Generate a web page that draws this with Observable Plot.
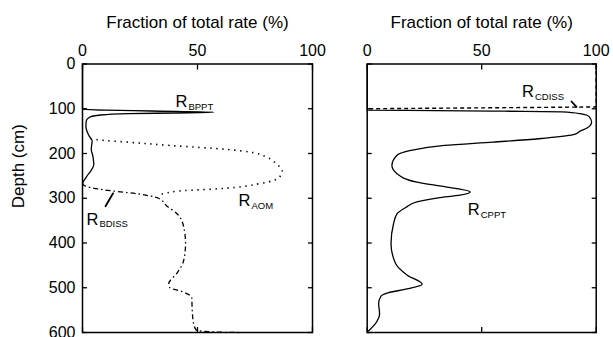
<!DOCTYPE html>
<html>
<head>
<meta charset="utf-8">
<script src="https://cdn.jsdelivr.net/npm/d3@7"></script>
<script src="https://cdn.jsdelivr.net/npm/@observablehq/plot@0.6"></script>
<style>
  html, body { margin: 0; padding: 0; background: #fff; }
  #wrap { position: relative; width: 613px; height: 337px; overflow: hidden; }
  #wrap svg { position: absolute; top: 0; overflow: visible; }
</style>
</head>
<body>
<div id="wrap"></div>
<script>
// ---- tick values ----
const xTicks = [0, 50, 100];
const depthTicks = [0, 100, 200, 300, 400, 500, 600];
const xTitle = "Fraction of total rate (%)";
const yTitle = "Depth (cm)";

// ---- Panel 1 series (fraction %, depth cm) ----
const bpptFrac  = [0, 0, 10, 30, 57, 40, 20, 8, 3, 1.6, 1.5, 2.8, 4.2, 3.8, 4.6, 4.9, 3.5, 2, 0];
const bpptDepth = [0, 101, 103, 105, 108, 109.5, 111, 114, 119, 128, 140, 160, 172, 190, 208, 225, 240, 250, 266];

const aomFrac  = [3.5, 10, 18, 38, 63, 73, 80, 84.3, 86.8, 85.4, 77.4, 58.6, 44, 36, 33];
const aomDepth = [167, 171, 174, 182, 191, 197, 208, 223, 239, 254, 267, 279, 283, 289, 293];

const bdissFrac  = [0, 0.6, 9, 23.8, 33, 36.8, 41, 44, 44.8, 44, 41, 37.5, 38, 43, 47.5, 47.7, 48.3, 49.5, 58, 68];
const bdissDepth = [266, 271, 281, 290, 300, 318, 334, 364, 401, 439, 468, 491, 500, 508, 522, 550, 580, 595, 599, 600];

// ---- Panel 2 series ----
const cpptFrac  = [0, 0, 30, 60, 85, 93, 97, 98, 96, 93, 90, 75, 55, 33.7, 19, 13, 10.8, 13, 21.7, 34.8, 45, 40.6, 31, 21.7, 17, 13, 11.5, 10.4, 12.4, 17.5, 24, 18, 9.3, 6, 5, 5.4, 3.6, 0];
const cpptDepth = [0, 103, 104, 105.5, 107, 111, 118, 130, 143, 150, 158, 167, 174.5, 182, 193, 204, 227, 245, 264, 275, 286, 293, 299, 308, 320, 335, 357, 401, 446, 472, 492, 502, 511, 519, 535, 558, 580, 599];

const cdissFrac  = [100, 100, 50, 0];
const cdissDepth = [0, 96, 98, 100];

// ---- curve labels (R + subscript), anchored at R's baseline-left ----
const p1LabelSub   = ["BPPT", "AOM", "BDISS"];
const p1LabelFrac  = [40.4, 67.8, 1.7];
const p1LabelDepth = [97.2, 318.4, 358.7];
const p2LabelSub   = ["CPPT", "CDISS"];
const p2LabelFrac  = [43.9, 67.6];
const p2LabelDepth = [337, 74];

// leader lines
const p1LeaderFrac  = [10, 13.3];
const p1LeaderDepth = [318, 289];
const p2LeaderFrac  = [89.2, 91.4];
const p2LeaderDepth = [83.8, 96];

const rows = (xs, ds) => xs.map((x, i) => ({x, d: ds[i]}));
const labelRows = (subs, xs, ds) => subs.map((s, i) => ({sub: s, x: xs[i], d: ds[i]}));

const FONT = "Arial, 'Liberation Sans', Helvetica, sans-serif";

function panel({width, marginLeft, marginRight, showYLabels, series, labels, leader}) {
  const marks = [
    Plot.axisX(xTicks, {anchor: "top", tickSize: -5, tickPadding: 13, label: null, fontSize: 16, strokeWidth: 1.3}),
    Plot.axisX(xTicks, {anchor: "bottom", tickSize: -5, tickFormat: () => "", label: null, strokeWidth: 1.3}),
    Plot.axisY(depthTicks, {anchor: "left", tickSize: -5, tickPadding: 12, label: null, fontSize: 16, strokeWidth: 1.3,
      tickFormat: showYLabels ? (d => String(d)) : (() => "")}),
    Plot.axisY(depthTicks, {anchor: "right", tickSize: -5, tickFormat: () => "", label: null, strokeWidth: 1.3}),
    Plot.text([xTitle], {frameAnchor: "top", dy: -41, lineAnchor: "middle", fontSize: 17}),
  ];
  if (showYLabels) {
    marks.push(Plot.text([yTitle], {frameAnchor: "left", rotate: -90, dx: -64, dy: 10, lineAnchor: "middle", fontSize: 17}));
  }
  for (const s of series) {
    marks.push(Plot.line(s.data, {x: "x", y: "d", curve: s.curve || "monotone-y", stroke: "#000",
      strokeWidth: s.width || 1.3, strokeDasharray: s.dash, strokeLinecap: s.cap || "butt"}));
  }
  marks.push(Plot.line(leader, {x: "x", y: "d", stroke: "#000", strokeWidth: 1.8}));
  marks.push(Plot.text(labels, {x: "x", y: "d", text: () => "R", textAnchor: "start", lineAnchor: "bottom", fontSize: 16.5}));
  marks.push(Plot.text(labels, {x: "x", y: "d", text: "sub", textAnchor: "start", lineAnchor: "bottom", fontSize: 9.5, dx: 13, dy: 2.8}));
  marks.push(Plot.frame({stroke: "#000", strokeWidth: 1.5}));
  return Plot.plot({
    width, height: 337,
    marginLeft, marginRight, marginTop: 63.5, marginBottom: 5,
    x: {domain: [0, 100], label: null},
    y: {domain: [0, 600], reverse: true, label: null},
    style: {fontFamily: FONT, fontSize: "16px", color: "#000", background: "transparent"},
    marks
  });
}

const p1 = panel({
  width: 330, marginLeft: 82, marginRight: 18, showYLabels: true,
  series: [
    {data: rows(bpptFrac, bpptDepth)},
    {data: rows(aomFrac, aomDepth), dash: "1.4,4.6", width: 1.6},
    {data: rows(bdissFrac, bdissDepth), dash: "5,3,1.5,3", width: 1.3}
  ],
  labels: labelRows(p1LabelSub, p1LabelFrac, p1LabelDepth),
  leader: rows(p1LeaderFrac, p1LeaderDepth)
});
const p2 = panel({
  width: 283, marginLeft: 36.7, marginRight: 17.3, showYLabels: false,
  series: [
    {data: rows(cpptFrac, cpptDepth)},
    {data: rows(cdissFrac, cdissDepth), dash: "4,3", width: 1.4, curve: "linear"}
  ],
  labels: labelRows(p2LabelSub, p2LabelFrac, p2LabelDepth),
  leader: rows(p2LeaderFrac, p2LeaderDepth)
});
p1.style.left = "0px";
p2.style.left = "330px";
const wrap = document.getElementById("wrap");
wrap.appendChild(p1);
wrap.appendChild(p2);
</script>
</body>
</html>
